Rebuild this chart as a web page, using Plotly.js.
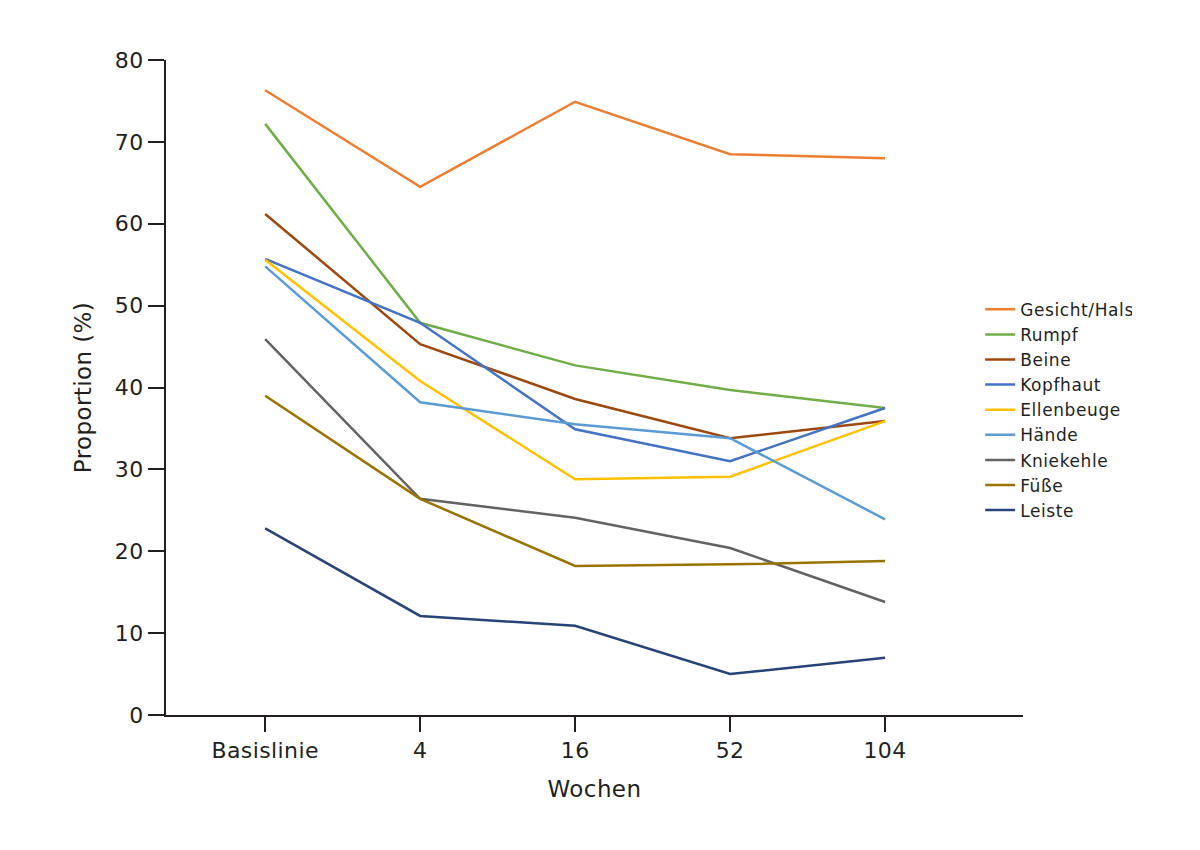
<!DOCTYPE html>
<html>
<head>
<meta charset="utf-8">
<script src="https://cdn.plot.ly/plotly-3.0.1.min.js"></script>
<style>
html,body{margin:0;padding:0;background:#fff;}
#chart{width:1200px;height:850px;}
#chart .legendtext{letter-spacing:0.6px;}
#chart .xtick text,#chart .ytick text{letter-spacing:0.4px;}
#chart .xtitle,#chart .ytitle{letter-spacing:0.4px;}
</style>
</head>
<body>
<div id="chart"></div>
<script>
const categories = ["Basislinie", "4", "16", "52", "104"];
const seriesNames = ["Gesicht/Hals", "Rumpf", "Beine", "Kopfhaut", "Ellenbeuge", "Hände", "Kniekehle", "Füße", "Leiste"];
const gesichtHals = [76.3, 64.5, 74.9, 68.5, 68.0];
const rumpf       = [72.2, 47.9, 42.7, 39.7, 37.5];
const beine       = [61.2, 45.3, 38.6, 33.8, 35.9];
const kopfhaut    = [55.7, 47.9, 34.9, 31.0, 37.5];
const ellenbeuge  = [55.6, 40.8, 28.8, 29.1, 35.9];
const haende      = [54.8, 38.2, 35.5, 33.8, 23.9];
const kniekehle   = [45.9, 26.4, 24.1, 20.4, 13.8];
const fuesse      = [39.0, 26.4, 18.2, 18.4, 18.8];
const leiste      = [22.8, 12.1, 10.9, 5.0, 7.0];
const seriesValues = [gesichtHals, rumpf, beine, kopfhaut, ellenbeuge, haende, kniekehle, fuesse, leiste];
const colors = ["#ED7D31", "#70AD47", "#9E480E", "#4472C4", "#FFC000", "#5B9BD5", "#636363", "#997300", "#264478"];

const traces = seriesNames.map((n, i) => ({
  type: "scatter",
  mode: "lines",
  name: n,
  x: categories,
  y: seriesValues[i],
  line: {color: colors[i], width: 2.5}
}));

const font = "DejaVu Sans, Liberation Sans, sans-serif";
const ink = "#231f20";
const layout = {
  width: 1200, height: 850,
  margin: {l: 166, r: 177, t: 60, b: 135},
  paper_bgcolor: "#fff", plot_bgcolor: "#fff",
  font: {family: font, color: ink, size: 20},
  showlegend: true,
  legend: {
    x: 0.95, xanchor: "left", y: 0.466, yanchor: "middle",
    font: {family: font, size: 17, color: ink},
    tracegroupgap: 0, itemwidth: 30, bgcolor: "rgba(0,0,0,0)"
  },
  xaxis: {
    type: "category",
    range: [-0.64, 4.89],
    showgrid: false, zeroline: false,
    showline: true, linecolor: ink, linewidth: 2,
    ticks: "outside", ticklen: 15, tickwidth: 2, tickcolor: ink,
    tickfont: {family: font, size: 22, color: ink},
    title: {text: "Wochen", font: {family: font, size: 23, color: ink}, standoff: 18}
  },
  yaxis: {
    range: [0, 80],
    tickvals: [0, 10, 20, 30, 40, 50, 60, 70, 80],
    showgrid: false, zeroline: false,
    showline: true, linecolor: ink, linewidth: 2,
    ticks: "outside", ticklen: 16, tickwidth: 2, tickcolor: ink,
    tickfont: {family: font, size: 22, color: ink},
    title: {text: "Proportion (%)", font: {family: font, size: 23, color: ink}, standoff: 18}
  }
};

Plotly.newPlot("chart", traces, layout, {displayModeBar: false, staticPlot: true});
</script>
</body>
</html>
